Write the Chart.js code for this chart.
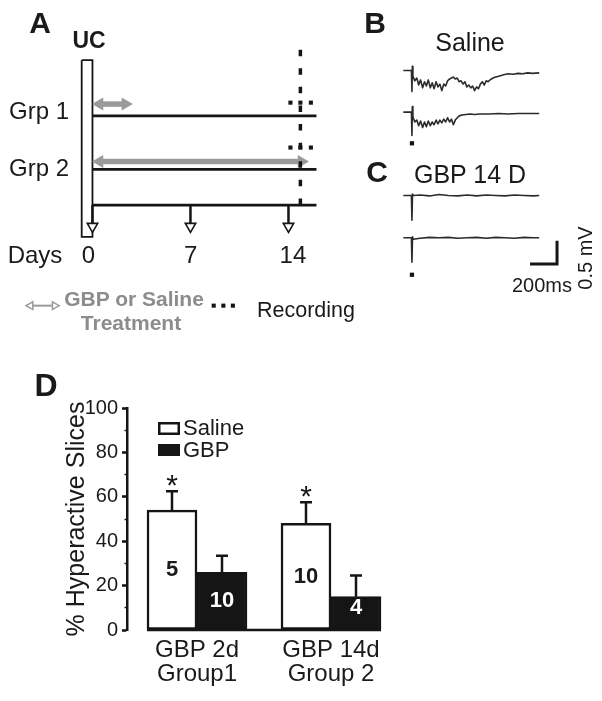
<!DOCTYPE html>
<html>
<head>
<meta charset="utf-8">
<script src="https://cdn.jsdelivr.net/npm/chart.js@4.4.1/dist/chart.umd.min.js"></script>
<style>
  html, body { margin: 0; padding: 0; background: #fff; }
  #figure {
    position: relative; width: 602px; height: 701px; overflow: hidden; background: #fff;
    font-family: "Liberation Sans", Arial, sans-serif; color: #1a1a1a;
  }
  #figure canvas { position: absolute; }
  .lbl { position: absolute; transform: translate(-50%, -50%); white-space: nowrap; line-height: 1; }
  .panel { font-weight: bold; font-size: 30px; }
  .t24 { font-size: 24px; }
  .grey { color: #8c8c8c; font-weight: bold; font-size: 21px; }
</style>
</head>
<body>
<div id="figure">
  <canvas id="timeline" width="370" height="340" style="left:0;top:0"></canvas>
  <canvas id="traces" width="222" height="310" style="left:380px;top:0"></canvas>
  <canvas id="bars" width="420" height="341" style="left:0;top:360px"></canvas>

  <!-- panel A text -->
  <div class="lbl panel" style="left:40px;top:23px">A</div>
  <div class="lbl" style="left:89px;top:40px;font-weight:bold;font-size:23px">UC</div>
  <div class="lbl t24" style="left:39px;top:111px">Grp 1</div>
  <div class="lbl t24" style="left:39px;top:168px">Grp 2</div>
  <div class="lbl t24" style="left:35px;top:255px">Days</div>
  <div id="dayLabels"></div>
  <div class="lbl grey" style="left:134px;top:298px">GBP or Saline</div>
  <div class="lbl grey" style="left:131px;top:322px">Treatment</div>
  <div class="lbl" style="left:306px;top:311px;font-size:21.5px">Recording</div>

  <!-- panels B / C text -->
  <div class="lbl panel" style="left:375px;top:23px">B</div>
  <div class="lbl" style="left:470px;top:42px;font-size:25px">Saline</div>
  <div class="lbl panel" style="left:377px;top:172px">C</div>
  <div class="lbl" style="left:470px;top:174px;font-size:25px">GBP 14 D</div>
  <div class="lbl" style="left:542px;top:285px;font-size:20px">200ms</div>
  <div class="lbl" style="left:585px;top:258px;font-size:20px;transform:translate(-50%,-50%) rotate(-90deg)">0.5 mV</div>

  <!-- panel D label -->
  <div class="lbl" style="left:46px;top:385px;font-weight:bold;font-size:32px">D</div>
</div>

<script>
// ---- panel D data ----
const groupTreatments = ['GBP 2d', 'GBP 14d'];
const groupNames = ['Group1', 'Group 2'];
const seriesNames = ['Saline', 'GBP'];
const salineValues = [54, 48];
const salineErrors = [8.5, 9.5];
const gbpValues = [26, 15];
const gbpErrors = [7.5, 9.5];
const salineCounts = ['5', '10'];
const gbpCounts = ['10', '4'];
const significant = [true, true];
const yTicks = [0, 20, 40, 60, 80, 100];

// ---- panel A timeline ----
const dayMarks = [0, 7, 14];
const timelineEnd = 16;
const groupLineRows = [11.33, 16.93];
const daysAxisRow = 20.67;
const arrowTipRow = 22.9;
const treatmentSpans = [[0.5, 2.35], [0.5, 14.93]];
const treatmentRows = [10.1, 16.1];
const recordingDay = 14.85;
const recordingSpan = [4.4, 21.8];
const recordingMarkDays = [14.14, 14.85, 15.6];
const recordingMarkRows = [9.95, 14.65];
const ucSpanDays = [-0.77, 0];
const ucSpanRows = [5.5, 24.0];

// ---- panels B / C traces (ms, mV relative to baseline) ----
const salineTimes1 = [-64, -14, -4, 0, 3, 7, 21, 36, 50, 64, 79, 93, 107, 121, 136, 150,
  164, 179, 193, 207, 221, 236, 250, 264, 279, 293, 307, 321, 336, 350, 364, 379, 393, 407, 421, 436,
  450, 464, 479, 493, 507, 521, 536, 550, 564, 579, 600, 621, 643, 679, 714, 750, 786, 821, 857, 893, 943];
const salineTrace1 = [0, 0, 0, -0.45, 0.09, -0.12,
  -0.22, -0.16, -0.31, -0.20, -0.37, -0.24, -0.33, -0.20, -0.37, -0.26,
  -0.39, -0.24, -0.35, -0.29, -0.43, -0.29, -0.33, -0.22, -0.18, -0.16,
  -0.14, -0.18, -0.16, -0.24, -0.22, -0.29, -0.24, -0.35, -0.31, -0.37,
  -0.33, -0.43, -0.35, -0.39, -0.29, -0.24, -0.31, -0.22, -0.24, -0.20,
  -0.16, -0.14, -0.12, -0.09, -0.07, -0.08, -0.06, -0.07, -0.05, -0.06, -0.05];
const salineTimes2 = [-64, -14, -4, 0, 3, 7, 21, 36, 50, 64, 79, 93, 107, 121, 136, 150,
  164, 179, 193, 207, 221, 236, 250, 264, 279, 293, 307, 321, 336, 350,
  371, 400, 429, 464, 500, 571, 643, 714, 786, 857, 943];
const salineTrace2 = [0, 0, 0, -0.50, 0.12, -0.10,
  -0.21, -0.17, -0.29, -0.19, -0.33, -0.21, -0.31, -0.19, -0.29, -0.21,
  -0.27, -0.17, -0.25, -0.17, -0.23, -0.15, -0.21, -0.12, -0.21, -0.15,
  -0.27, -0.17, -0.12, -0.08,
  -0.06, -0.05, -0.04, -0.05, -0.04, -0.04, -0.03, -0.04, -0.03, -0.03, -0.03];
const gbpTimes = [-64, -4, 0, 4, 10, 60, 130, 200, 270, 340, 410, 480, 550, 620, 690, 760, 830, 900, 943];
const gbpTrace1 = [0, 0, -0.53, 0.03, 0, 0.01, -0.01, 0.02, 0, -0.01, 0.01, -0.01, 0.01, 0, -0.01, 0.01, 0, -0.01, 0];
const gbpTrace2 = [0, 0, -0.52, 0.02, -0.03, -0.01, 0.01, 0, 0.01, -0.01, 0, 0.01, -0.01, 0.01, 0, -0.01, 0.01, 0, 0];
const traceOffsets = [-1.423, -2.3125, -4.094, -5.0];
const stimulusRows = [-2.979, -5.79];
const scaleBarMs = 200;
const scaleBarMv = 0.5;
const scaleBarCorner = [1075, -5.5625];

const FONT = "'Liberation Sans', Arial, sans-serif";
const ink = '#1a1a1a';
const black = '#151515';
const grey = '#9a9a9a';
Chart.defaults.font.family = FONT;
Chart.defaults.color = ink;

// day numbers under the timeline
const dayPx = d => 88.5 + d * 14.6;
document.getElementById('dayLabels').innerHTML = dayMarks
  .map(d => `<div class="lbl t24" style="left:${dayPx(d)}px;top:255px">${d}</div>`).join('');

const hiddenScales = (xmin, xmax, ymin, ymax, reverse) => ({
  x: { type: 'linear', display: false, min: xmin, max: xmax },
  y: { type: 'linear', display: false, min: ymin, max: ymax, reverse: !!reverse }
});

const baseOptions = {
  responsive: false,
  animation: false,
  events: [],
  layout: { padding: 0 },
  plugins: { legend: { display: false }, tooltip: { enabled: false } }
};

function seg(points, extra) {
  return Object.assign({
    data: points, showLine: true, borderColor: black, borderWidth: 2.8,
    pointRadius: 0, tension: 0, clip: false, borderCapStyle: 'butt'
  }, extra);
}

// ---------- panel A ----------
const tl = [];
// recording line + marks on top
tl.push(seg([{ x: recordingDay, y: recordingSpan[0] }, { x: recordingDay, y: recordingSpan[1] }],
  { borderWidth: 3.5, borderDash: [6.5, 12.1], order: 1 }));
recordingMarkRows.forEach(r => tl.push({
  data: recordingMarkDays.map(d => ({ x: d, y: r })), showLine: false, clip: false,
  pointStyle: 'rect', pointRadius: 2.9, pointBackgroundColor: black, pointBorderWidth: 0, order: 1
}));
// treatment arrows
treatmentSpans.forEach((span, i) => tl.push(seg(span.map(d => ({ x: d, y: treatmentRows[i] })), {
  borderColor: grey, borderWidth: 5.5, pointStyle: 'triangle', pointRadius: 7.5,
  pointRotation: [-90, 90], pointBackgroundColor: grey, pointBorderWidth: 0, order: 2
})));
// group lines and day axis
groupLineRows.concat([daysAxisRow]).forEach(r => tl.push(seg([{ x: 0, y: r }, { x: timelineEnd, y: r }], { order: 3 })));
// day arrows
dayMarks.forEach(d => tl.push(seg([{ x: d, y: daysAxisRow }, { x: d, y: arrowTipRow }], {
  borderWidth: 2.5, pointStyle: 'triangle', pointRadius: [0, 6], pointRotation: 180,
  pointBackgroundColor: '#fff', pointBorderColor: black, pointBorderWidth: 1.6, order: 3
})));
// UC bar
tl.push(seg([
  { x: ucSpanDays[0], y: ucSpanRows[0] }, { x: ucSpanDays[1], y: ucSpanRows[0] },
  { x: ucSpanDays[1], y: ucSpanRows[1] }, { x: ucSpanDays[0], y: ucSpanRows[1] },
  { x: ucSpanDays[0], y: ucSpanRows[0] }
], { borderWidth: 1.8, borderJoinStyle: 'miter', order: 4 }));
// legend symbols
tl.push(seg([{ x: -4.42, y: 31.2 }, { x: -2.70, y: 31.2 }], {
  borderColor: grey, borderWidth: 2, pointStyle: 'triangle', pointRadius: 4.5,
  pointRotation: [-90, 90], pointBackgroundColor: '#fff', pointBorderColor: grey, pointBorderWidth: 1.5, order: 2
}));
tl.push({
  data: [8.66, 9.35, 10.03].map(d => ({ x: d, y: 31.2 })), showLine: false, clip: false,
  pointStyle: 'rect', pointRadius: 2.9, pointBackgroundColor: black, pointBorderWidth: 0, order: 1
});

new Chart(document.getElementById('timeline'), {
  type: 'scatter',
  data: { datasets: tl },
  options: Object.assign({}, baseOptions, { scales: hiddenScales(-6.062, 19.28, 0, 34, true) })
});

// ---------- panels B / C ----------
const traceSets = [
  [salineTimes1, salineTrace1], [salineTimes2, salineTrace2],
  [gbpTimes, gbpTrace1], [gbpTimes, gbpTrace2]
];
const tr = traceSets.map(([times, vals], i) => seg(
  times.map((t, k) => ({ x: t, y: traceOffsets[i] + vals[k] })),
  { borderColor: '#2b2b2b', borderWidth: 1.6, borderJoinStyle: 'round' }
));
tr.push({
  data: stimulusRows.map(r => ({ x: 0, y: r })), showLine: false, clip: false,
  pointStyle: 'rect', pointRadius: 3, pointBackgroundColor: black, pointBorderWidth: 0
});
tr.push(seg([
  { x: scaleBarCorner[0] - scaleBarMs, y: scaleBarCorner[1] },
  { x: scaleBarCorner[0], y: scaleBarCorner[1] },
  { x: scaleBarCorner[0], y: scaleBarCorner[1] + scaleBarMv }
], { borderWidth: 3, borderJoinStyle: 'miter' }));

new Chart(document.getElementById('traces'), {
  type: 'scatter',
  data: { datasets: tr },
  options: Object.assign({}, baseOptions, { scales: hiddenScales(-207.1, 1378.6, -6.458, 0) })
});

// ---------- panel D ----------
const barExtras = {
  id: 'barExtras',
  afterDatasetsDraw(chart) {
    const { ctx, chartArea } = chart;
    const y = chart.scales.y;
    const zeroY = y.getPixelForValue(0);
    const metaS = chart.getDatasetMeta(0);
    const metaG = chart.getDatasetMeta(1);
    ctx.save();
    ctx.strokeStyle = black;
    ctx.fillStyle = black;
    ctx.lineWidth = 2.5;

    // baseline under the bars
    const first = metaS.data[0];
    const last = metaG.data[metaG.data.length - 1];
    ctx.beginPath();
    ctx.moveTo(first.x - first.width / 2, zeroY);
    ctx.lineTo(last.x + last.width / 2, zeroY);
    ctx.stroke();

    // error bars (upper only)
    [[metaS, salineValues, salineErrors], [metaG, gbpValues, gbpErrors]].forEach(([meta, vals, errs]) => {
      meta.data.forEach((bar, i) => {
        const top = y.getPixelForValue(vals[i] + errs[i]);
        const base = y.getPixelForValue(vals[i]);
        ctx.beginPath();
        ctx.moveTo(bar.x, base);
        ctx.lineTo(bar.x, top);
        ctx.moveTo(bar.x - 6, top);
        ctx.lineTo(bar.x + 6, top);
        ctx.stroke();
      });
    });

    // significance stars
    ctx.font = `30px ${FONT}`;
    ctx.textAlign = 'center';
    ctx.textBaseline = 'alphabetic';
    metaS.data.forEach((bar, i) => {
      if (!significant[i]) return;
      const top = y.getPixelForValue(salineValues[i] + salineErrors[i]);
      ctx.fillText('*', bar.x, top + 4);
    });

    // n inside bars
    ctx.font = `bold 22px ${FONT}`;
    ctx.textBaseline = 'middle';
    metaS.data.forEach((bar, i) => {
      ctx.fillStyle = ink;
      ctx.fillText(salineCounts[i], bar.x, y.getPixelForValue(Math.max(salineValues[i] / 2, 10)));
    });
    metaG.data.forEach((bar, i) => {
      ctx.fillStyle = '#fff';
      ctx.fillText(gbpCounts[i], bar.x, y.getPixelForValue(Math.max(gbpValues[i] / 2, 10)));
    });

    // legend
    const lx = chartArea.left + 31;
    const ly = chartArea.top + 14;
    ctx.lineWidth = 2.5;
    ctx.strokeStyle = black;
    ctx.fillStyle = '#fff';
    ctx.fillRect(lx, ly, 22, 13);
    ctx.strokeRect(lx + 1.25, ly + 1.25, 19.5, 10.5);
    ctx.fillStyle = black;
    ctx.fillRect(lx, ly + 22, 22, 12);
    ctx.fillStyle = ink;
    ctx.font = `22px ${FONT}`;
    ctx.textAlign = 'left';
    ctx.fillText(seriesNames[0], lx + 25, ly + 7);
    ctx.fillText(seriesNames[1], lx + 25, ly + 29);
    ctx.restore();
  }
};

new Chart(document.getElementById('bars'), {
  type: 'bar',
  data: {
    datasets: [
      {
        label: seriesNames[0], data: salineValues.map((v, i) => ({ x: i, y: v })),
        backgroundColor: '#fff', borderColor: black, borderWidth: 2.5, borderSkipped: false, barThickness: 50
      },
      {
        label: seriesNames[1], data: gbpValues.map((v, i) => ({ x: i, y: v })),
        backgroundColor: black, borderColor: black, borderWidth: 2.5, borderSkipped: false, barThickness: 50
      }
    ]
  },
  options: Object.assign({}, baseOptions, {
    layout: { padding: { left: 60, right: 38, top: 48, bottom: 0 } },
    scales: {
      x: {
        type: 'linear', min: -0.5224, max: 1.3806, offset: false,
        grid: { display: false, drawTicks: false, offset: false },
        border: { display: false },
        afterBuildTicks: s => { s.ticks = groupTreatments.map((_, i) => ({ value: i })); },
        afterFit: s => { s.height = 71; },
        ticks: {
          autoSkip: false, maxRotation: 0, padding: 8, color: ink,
          font: { size: 24, lineHeight: 1 },
          callback: v => [groupTreatments[v], groupNames[v]]
        }
      },
      y: {
        position: 'left', weight: 1, min: 0, max: 100,
        afterBuildTicks: s => { s.ticks = yTicks.map(v => ({ value: v })); },
        afterFit: s => { s.width = 67; },
        ticks: { padding: 4, color: ink, font: { size: 20 } },
        grid: { drawOnChartArea: false, drawTicks: true, tickLength: 5, tickWidth: 2.5, tickColor: black },
        border: { color: black, width: 2.5 },
        title: {
          display: true, text: '% Hyperactive Slices', color: ink,
          font: { size: 25 }, padding: { top: 2, bottom: 0 }
        }
      },
      yMinor: {
        position: 'left', weight: 0, min: 0, max: 100,
        afterFit: s => { s.width = 0; },
        ticks: { stepSize: 10, display: false },
        grid: { drawOnChartArea: false, drawTicks: true, tickLength: 2.5, tickWidth: 1.5, tickColor: black },
        border: { display: false }
      }
    }
  }),
  plugins: [barExtras]
});
</script>
</body>
</html>
